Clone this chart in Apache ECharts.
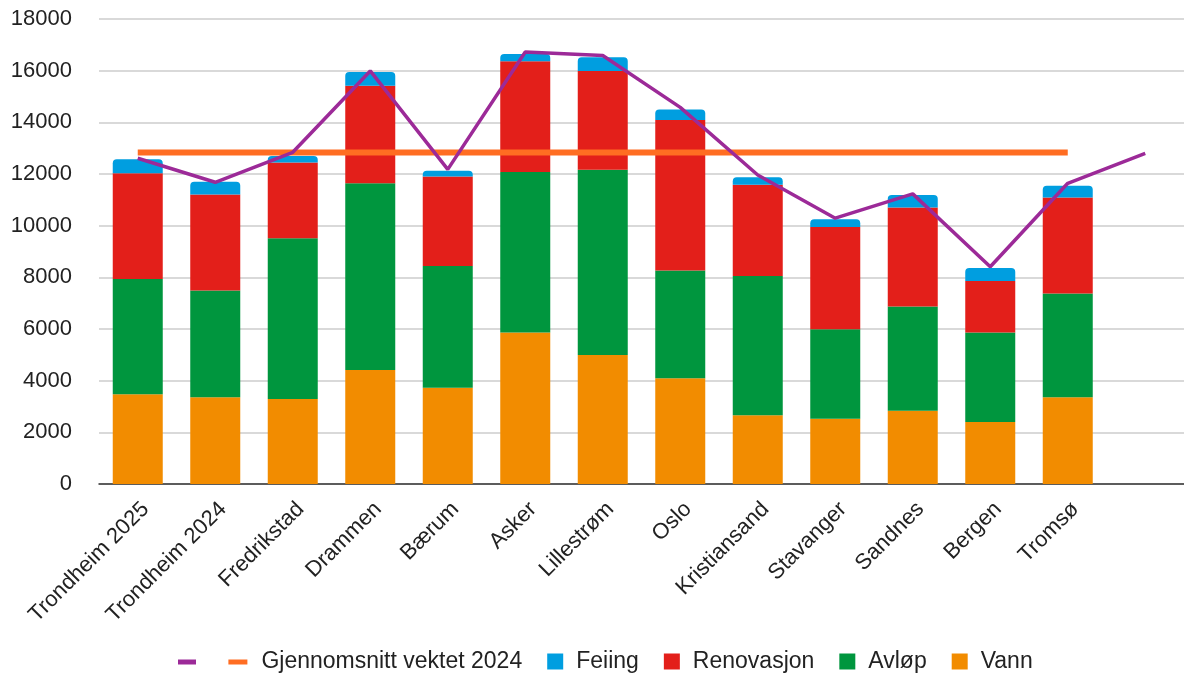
<!DOCTYPE html>
<html>
<head>
<meta charset="utf-8">
<script src="https://cdn.jsdelivr.net/npm/echarts@6/dist/echarts.min.js"></script>
<style>
html,body{margin:0;padding:0;background:#fff;}
#chart{width:1184px;height:673px;}
</style>
</head>
<body>
<div id="chart"></div>
<script>
const categories = ['Trondheim 2025','Trondheim 2024','Fredrikstad','Drammen','Bærum','Asker','Lillestrøm','Oslo','Kristiansand','Stavanger','Sandnes','Bergen','Tromsø',''];
const vann       = [3470, 3360, 3290, 4410, 3730, 5860, 4990, 4090, 2660, 2530, 2840, 2400, 3360];
const avlop      = [4470, 4130, 6220, 7230, 4710, 6220, 7170, 4170, 5390, 3460, 4030, 3460, 4010];
const renovasjon = [4090, 3720, 2940, 3780, 3460, 4280, 3830, 5830, 3530, 3960, 3830, 2000, 3720];
const feiing     = [540, 490, 250, 530, 230, 290, 530, 410, 290, 300, 490, 500, 460];
const totalLine  = [12610, 11680, 12840, 15990, 12180, 16720, 16590, 14580, 11960, 10290, 11230, 8410, 11640, 12800];
const snitt2024  = [12830, 12830, 12830, 12830, 12830, 12830, 12830, 12830, 12830, 12830, 12830, 12830, 12830, null];
const yTicks = { min: 0, max: 18000, interval: 2000 };

const FONT = '"Liberation Sans", Arial, sans-serif';
const C = { vann:'#f28c00', avlop:'#00963e', renov:'#e31f1a', feiing:'#009ee0', purple:'#9c2a98', orange:'#ff6d22' };
const barIcon = 'path://M0,0M28,16M4,0h16v16h-16z';
const lineIcon = 'path://M0,0M28,16M0,6h19v5h-19z';
const purpleIcon = 'path://M0,0M28,16M10,6h18v5h-18z';

const chart = echarts.init(document.getElementById('chart'));
chart.setOption({
  animation: false,
  backgroundColor: '#fff',
  textStyle: { fontFamily: FONT },
  grid: { left: 99, right: 0, top: 19, bottom: 189, containLabel: false },
  legend: {
    top: 645,
    left: 163,
    itemWidth: 28,
    itemHeight: 16,
    itemGap: 21,
    textStyle: { fontFamily: FONT, fontSize: 23, color: '#222' },
    data: [
      { name: ' ', icon: purpleIcon },
      { name: 'Gjennomsnitt vektet 2024', icon: lineIcon },
      { name: 'Feiing', icon: barIcon },
      { name: 'Renovasjon', icon: barIcon },
      { name: 'Avløp', icon: barIcon },
      { name: 'Vann', icon: barIcon }
    ]
  },
  xAxis: {
    type: 'category',
    data: categories,
    axisLine: { lineStyle: { color: '#333', width: 1.5 } },
    axisTick: { show: false },
    axisLabel: { rotate: 45, margin: 14, verticalAlign: 'top', interval: 0, fontSize: 22, color: '#222', fontFamily: FONT }
  },
  yAxis: {
    type: 'value',
    min: yTicks.min, max: yTicks.max, interval: yTicks.interval,
    axisLine: { show: false },
    axisTick: { show: false },
    axisLabel: { margin: 27, fontSize: 22, color: '#222', fontFamily: FONT, formatter: v => String(v) },
    splitLine: { lineStyle: { color: '#cccccc', width: 1.5 } }
  },
  series: [
    { name: 'Vann', type: 'bar', stack: 't', data: vann, barWidth: 50, itemStyle: { color: C.vann } },
    { name: 'Avløp', type: 'bar', stack: 't', data: avlop, barWidth: 50, itemStyle: { color: C.avlop } },
    { name: 'Renovasjon', type: 'bar', stack: 't', data: renovasjon, barWidth: 50, itemStyle: { color: C.renov } },
    { name: 'Feiing', type: 'bar', stack: 't', data: feiing, barWidth: 50, itemStyle: { color: C.feiing, borderRadius: [4,4,0,0] } },
    { name: 'Gjennomsnitt vektet 2024', type: 'line', data: snitt2024, symbol: 'none', z: 3,
      lineStyle: { color: C.orange, width: 6, cap: 'butt' }, itemStyle: { color: C.orange } },
    { name: ' ', type: 'line', data: totalLine, symbol: 'none', z: 4,
      lineStyle: { color: C.purple, width: 3.5 }, itemStyle: { color: C.purple } }
  ]
});
</script>
</body>
</html>
